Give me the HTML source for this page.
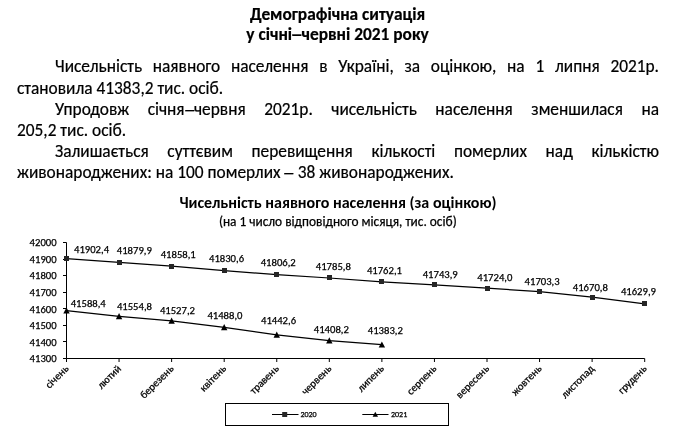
<!DOCTYPE html>
<html lang="uk">
<head>
<meta charset="utf-8">
<style>
html,body{margin:0;padding:0;background:#fff;}
body{width:686px;height:436px;position:relative;overflow:hidden;color:#000;-webkit-text-stroke:0.2px #000;
 font-family:"Carlito","Liberation Sans",sans-serif;}
.t{position:absolute;white-space:nowrap;}
.h{font-weight:bold;font-size:17.33px;line-height:21px;left:0;width:675px;text-align:center;}
.p{font-size:17.33px;line-height:21px;}
.d{display:inline-block;transform:translate(0.4px,1px) scaleX(1.45);margin-right:0.8px;}
.h .d{transform:translate(0.4px,0) scaleX(1.45);}
.j{text-align:justify;text-align-last:justify;white-space:normal;}
svg{position:absolute;left:0;top:0;}
svg text{font-family:"Carlito","Liberation Sans",sans-serif;fill:#000;-webkit-text-stroke:0;stroke:#000;stroke-width:0.25px;}
/* fallback sizing when Carlito is not installed */
.nf body,.nf svg text{font-family:"Liberation Sans",sans-serif;}
.nf .p{font-size:15.8px;}
.nf .h{font-size:15.1px;}
.nf svg text.lb{font-size:9.7px;}
.nf svg text.ct{font-size:13.9px;}
.nf svg text.st{font-size:12.2px;}
.nf svg text.lg{font-size:7.3px;}
.nf .d{transform:none;margin:0;}
</style>
<script>
(function(){try{var c=document.createElement("canvas").getContext("2d"),s="Чисельність населення 41902,4";
c.font="20px monospace";var a=c.measureText(s).width;c.font="20px Carlito, monospace";var b=c.measureText(s).width;
if(Math.abs(a-b)<0.01)document.documentElement.className="nf";}catch(e){}})();
</script>
</head>
<body>
<div class="t h" style="top:4px">Демографічна ситуація</div>
<div class="t h" style="top:24px">у січні<span class="d">–</span>червні 2021 року</div>

<div class="t p j" style="left:55px;width:604px;top:56px">Чисельність наявного населення в Україні, за оцінкою, на 1 липня 2021р.</div>
<div class="t p" style="left:17px;top:78px">становила 41383,2 тис. осіб.</div>
<div class="t p j" style="left:55px;width:604px;top:99px">Упродовж січня<span class="d">–</span>червня 2021р. чисельність населення зменшилася на</div>
<div class="t p" style="left:17px;top:120px">205,2 тис. осіб.</div>
<div class="t p j" style="left:55px;width:604px;top:141px">Залишається суттєвим перевищення кількості померлих над кількістю</div>
<div class="t p" style="left:17px;top:162px">живонароджених: на 100 померлих <span class="d">–</span> 38 живонароджених.</div>

<svg width="686" height="436" viewBox="0 0 686 436">
<line x1="66.5" y1="242.5" x2="66.5" y2="358.5" stroke="#000" stroke-width="1.0"/>
<line x1="63.0" y1="242.5" x2="66.5" y2="242.5" stroke="#000" stroke-width="1.0"/>
<text x="56.6" y="246.3" font-size="10.67" class="lb" text-anchor="end">42000</text>
<line x1="63.0" y1="259.5" x2="66.5" y2="259.5" stroke="#000" stroke-width="1.0"/>
<text x="56.6" y="262.87142857142857" font-size="10.67" class="lb" text-anchor="end">41900</text>
<line x1="63.0" y1="275.5" x2="66.5" y2="275.5" stroke="#000" stroke-width="1.0"/>
<text x="56.6" y="279.4428571428571" font-size="10.67" class="lb" text-anchor="end">41800</text>
<line x1="63.0" y1="292.5" x2="66.5" y2="292.5" stroke="#000" stroke-width="1.0"/>
<text x="56.6" y="296.01428571428573" font-size="10.67" class="lb" text-anchor="end">41700</text>
<line x1="63.0" y1="308.5" x2="66.5" y2="308.5" stroke="#000" stroke-width="1.0"/>
<text x="56.6" y="312.5857142857143" font-size="10.67" class="lb" text-anchor="end">41600</text>
<line x1="63.0" y1="325.5" x2="66.5" y2="325.5" stroke="#000" stroke-width="1.0"/>
<text x="56.6" y="329.15714285714284" font-size="10.67" class="lb" text-anchor="end">41500</text>
<line x1="63.0" y1="341.5" x2="66.5" y2="341.5" stroke="#000" stroke-width="1.0"/>
<text x="56.6" y="345.72857142857146" font-size="10.67" class="lb" text-anchor="end">41400</text>
<line x1="63.0" y1="358.5" x2="66.5" y2="358.5" stroke="#000" stroke-width="1.0"/>
<text x="56.6" y="362.3" font-size="10.67" class="lb" text-anchor="end">41300</text>
<line x1="66.5" y1="358.5" x2="644.6875" y2="358.5" stroke="#000" stroke-width="1.0"/>
<line x1="66.5" y1="358.5" x2="66.5" y2="362.0" stroke="#000" stroke-width="1.0"/>
<text transform="translate(69.2,369.3) rotate(-45)" font-size="10.67" class="lb" text-anchor="end">січень</text>
<line x1="119.06" y1="358.5" x2="119.06" y2="362.0" stroke="#000" stroke-width="1.0"/>
<text transform="translate(121.7625,369.3) rotate(-45)" font-size="10.67" class="lb" text-anchor="end">лютий</text>
<line x1="171.62" y1="358.5" x2="171.62" y2="362.0" stroke="#000" stroke-width="1.0"/>
<text transform="translate(174.325,369.3) rotate(-45)" font-size="10.67" class="lb" text-anchor="end">березень</text>
<line x1="224.19" y1="358.5" x2="224.19" y2="362.0" stroke="#000" stroke-width="1.0"/>
<text transform="translate(226.8875,369.3) rotate(-45)" font-size="10.67" class="lb" text-anchor="end">квітень</text>
<line x1="276.75" y1="358.5" x2="276.75" y2="362.0" stroke="#000" stroke-width="1.0"/>
<text transform="translate(279.45,369.3) rotate(-45)" font-size="10.67" class="lb" text-anchor="end">травень</text>
<line x1="329.31" y1="358.5" x2="329.31" y2="362.0" stroke="#000" stroke-width="1.0"/>
<text transform="translate(332.0125,369.3) rotate(-45)" font-size="10.67" class="lb" text-anchor="end">червень</text>
<line x1="381.88" y1="358.5" x2="381.88" y2="362.0" stroke="#000" stroke-width="1.0"/>
<text transform="translate(384.575,369.3) rotate(-45)" font-size="10.67" class="lb" text-anchor="end">липень</text>
<line x1="434.44" y1="358.5" x2="434.44" y2="362.0" stroke="#000" stroke-width="1.0"/>
<text transform="translate(437.1375,369.3) rotate(-45)" font-size="10.67" class="lb" text-anchor="end">серпень</text>
<line x1="487.0" y1="358.5" x2="487.0" y2="362.0" stroke="#000" stroke-width="1.0"/>
<text transform="translate(489.7,369.3) rotate(-45)" font-size="10.67" class="lb" text-anchor="end">вересень</text>
<line x1="539.56" y1="358.5" x2="539.56" y2="362.0" stroke="#000" stroke-width="1.0"/>
<text transform="translate(542.2625,369.3) rotate(-45)" font-size="10.67" class="lb" text-anchor="end">жовтень</text>
<line x1="592.12" y1="358.5" x2="592.12" y2="362.0" stroke="#000" stroke-width="1.0"/>
<text transform="translate(594.825,369.3) rotate(-45)" font-size="10.67" class="lb" text-anchor="end">листопад</text>
<line x1="644.69" y1="358.5" x2="644.69" y2="362.0" stroke="#000" stroke-width="1.0"/>
<text transform="translate(647.3875,369.3) rotate(-45)" font-size="10.67" class="lb" text-anchor="end">грудень</text>
<polyline points="66.50,258.67 119.06,262.40 171.62,266.01 224.19,270.57 276.75,274.62 329.31,278.00 381.88,281.92 434.44,284.94 487.00,288.24 539.56,291.67 592.12,297.05 644.69,303.83" fill="none" stroke="#000" stroke-width="1.25"/>
<rect x="64" y="256" width="5" height="5" fill="#262626"/>
<rect x="117" y="260" width="5" height="5" fill="#262626"/>
<rect x="169" y="264" width="5" height="5" fill="#262626"/>
<rect x="222" y="268" width="5" height="5" fill="#262626"/>
<rect x="274" y="272" width="5" height="5" fill="#262626"/>
<rect x="327" y="275" width="5" height="5" fill="#262626"/>
<rect x="379" y="279" width="5" height="5" fill="#262626"/>
<rect x="432" y="282" width="5" height="5" fill="#262626"/>
<rect x="485" y="286" width="5" height="5" fill="#262626"/>
<rect x="537" y="289" width="5" height="5" fill="#262626"/>
<rect x="590" y="295" width="5" height="5" fill="#262626"/>
<rect x="642" y="301" width="5" height="5" fill="#262626"/>
<polyline points="66.50,310.71 119.06,316.28 171.62,320.85 224.19,327.35 276.75,334.87 329.31,340.57 381.88,344.71" fill="none" stroke="#000" stroke-width="1.25"/>
<polygon points="66.50,307.41 69.70,313.61 63.30,313.61" fill="#000"/>
<polygon points="119.06,312.98 122.26,319.18 115.86,319.18" fill="#000"/>
<polygon points="171.62,317.55 174.82,323.75 168.43,323.75" fill="#000"/>
<polygon points="224.19,324.05 227.39,330.25 220.99,330.25" fill="#000"/>
<polygon points="276.75,331.57 279.95,337.77 273.55,337.77" fill="#000"/>
<polygon points="329.31,337.27 332.51,343.47 326.11,343.47" fill="#000"/>
<polygon points="381.88,341.41 385.07,347.61 378.68,347.61" fill="#000"/>
<text x="74.0" y="253.1" font-size="10.67" class="lb">41902,4</text>
<text x="116.8" y="253.8" font-size="10.67" class="lb">41879,9</text>
<text x="160.7" y="257.8" font-size="10.67" class="lb">41858,1</text>
<text x="209.0" y="261.8" font-size="10.67" class="lb">41830,6</text>
<text x="260.7" y="265.9" font-size="10.67" class="lb">41806,2</text>
<text x="315.8" y="269.8" font-size="10.67" class="lb">41785,8</text>
<text x="366.9" y="274.4" font-size="10.67" class="lb">41762,1</text>
<text x="422.7" y="278.3" font-size="10.67" class="lb">41743,9</text>
<text x="477.3" y="280.9" font-size="10.67" class="lb">41724,0</text>
<text x="524.6" y="284.9" font-size="10.67" class="lb">41703,3</text>
<text x="572.8" y="290.9" font-size="10.67" class="lb">41670,8</text>
<text x="620.9" y="294.9" font-size="10.67" class="lb">41629,9</text>
<text x="70.7" y="306.9" font-size="10.67" class="lb">41588,4</text>
<text x="116.9" y="310.2" font-size="10.67" class="lb">41554,8</text>
<text x="159.9" y="314.0" font-size="10.67" class="lb">41527,2</text>
<text x="207.4" y="318.9" font-size="10.67" class="lb">41488,0</text>
<text x="261.0" y="324.0" font-size="10.67" class="lb">41442,6</text>
<text x="313.8" y="333.3" font-size="10.67" class="lb">41408,2</text>
<text x="367.8" y="333.7" font-size="10.67" class="lb">41383,2</text>
<text x="337.9" y="208" font-size="16" font-weight="bold" class="ct" text-anchor="middle" style="stroke:none">Чисельність наявного населення (за оцінкою)</text>
<text x="337.8" y="225.5" font-size="13.33" class="st" text-anchor="middle">(на 1 число відповідного місяця, тис. осіб)</text>
<rect x="225.5" y="403.5" width="223" height="22" fill="none" stroke="#000" stroke-width="1"/>
<line x1="272" y1="414.5" x2="298.5" y2="414.5" stroke="#000" stroke-width="1"/>
<rect x="282.2" y="412" width="5" height="5" fill="#262626"/>
<text x="300.4" y="417.3" font-size="8" class="lg">2020</text>
<line x1="362.3" y1="414.5" x2="388.5" y2="414.5" stroke="#000" stroke-width="1"/>
<polygon points="375.3,411.8 378,416.8 372.6,416.8" fill="#000"/>
<text x="391" y="417.3" font-size="8" class="lg">2021</text>
</svg>
</body>
</html>
